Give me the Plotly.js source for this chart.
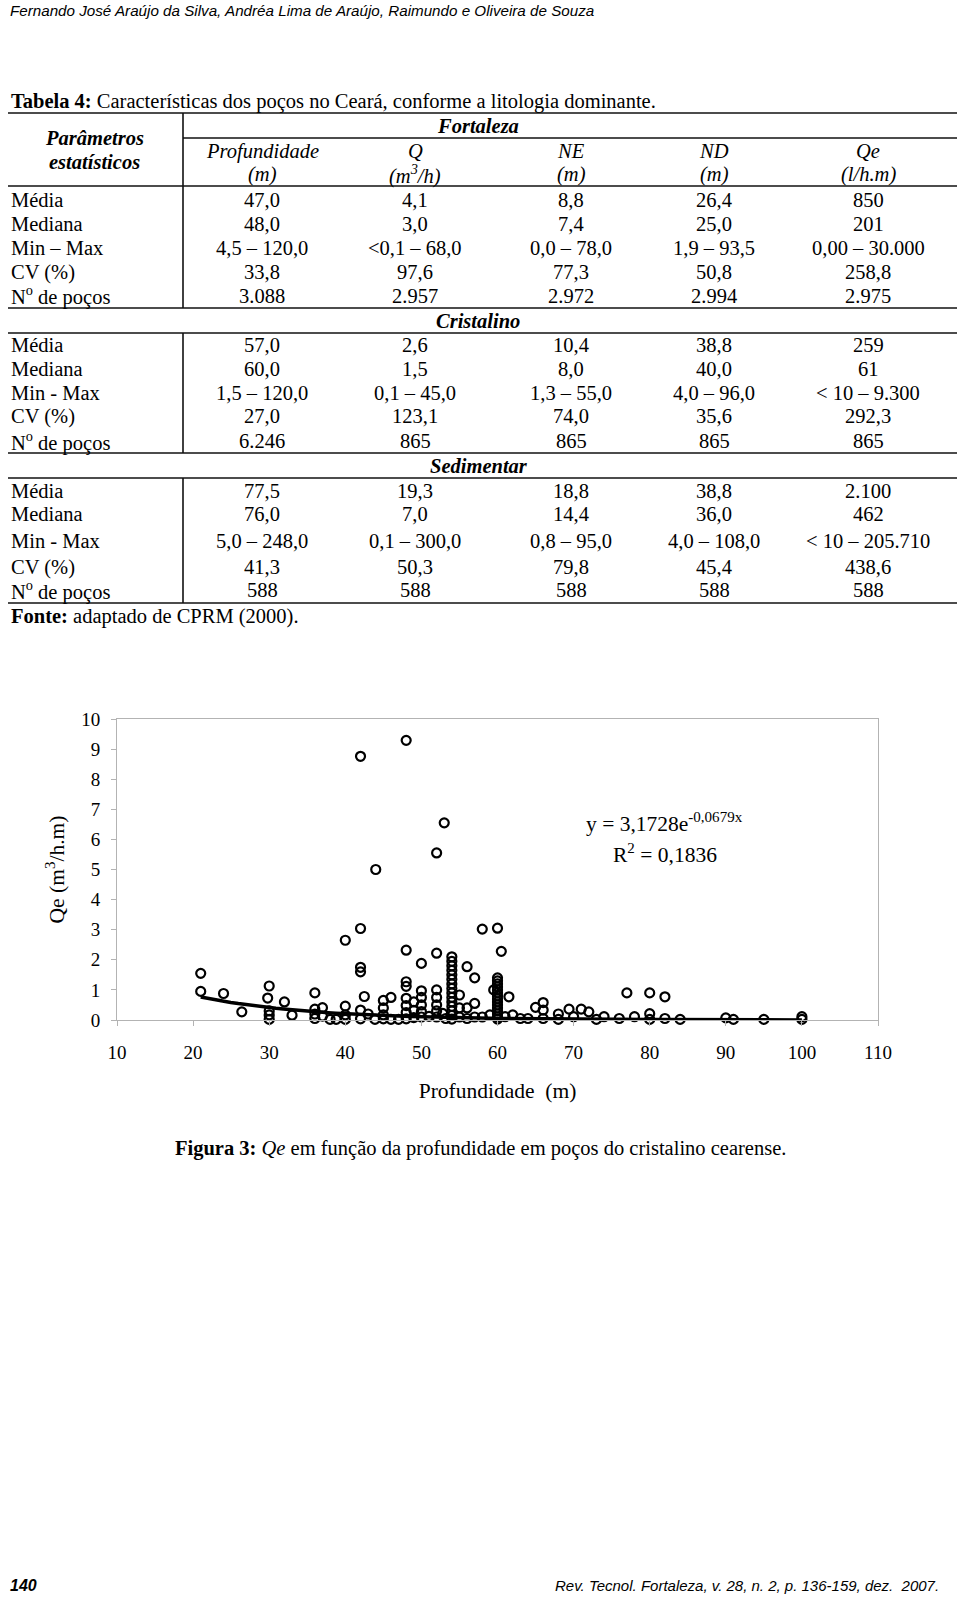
<!DOCTYPE html>
<html>
<head>
<meta charset="utf-8">
<script src="https://cdn.plot.ly/plotly-3.0.1.min.js"></script>
<style>
  html, body { margin: 0; padding: 0; background: #fff; }
  #page { width: 960px; height: 1597px; }
</style>
</head>
<body>
<div id="page"></div>
<script>
// ---------------- DATA ----------------
const runningHeader = 'Fernando José Araújo da Silva, Andréa Lima de Araújo, Raimundo e Oliveira de Souza';
const tableTitleBold = 'Tabela 4:';
const tableTitleRest = ' Características dos poços no Ceará, conforme a litologia dominante.';
const paramHeader = ['Parâmetros', 'estatísticos'];
const colNames = ['Profundidade', 'Q', 'NE', 'ND', 'Qe'];
const colUnits = ['(m)', '(m<sup>3</sup>/h)', '(m)', '(m)', '(l/h.m)'];
const groupNames = ['Fortaleza', 'Cristalino', 'Sedimentar'];
const rowLabelsFortaleza = ['Média', 'Mediana', 'Min – Max', 'CV (%)', 'N<sup>o</sup> de poços'];
const rowLabelsOther = ['Média', 'Mediana', 'Min - Max', 'CV (%)', 'N<sup>o</sup> de poços'];
const fortalezaValues = [
  ['47,0', '4,1', '8,8', '26,4', '850'],
  ['48,0', '3,0', '7,4', '25,0', '201'],
  ['4,5 – 120,0', '&lt;0,1 – 68,0', '0,0 – 78,0', '1,9 – 93,5', '0,00 – 30.000'],
  ['33,8', '97,6', '77,3', '50,8', '258,8'],
  ['3.088', '2.957', '2.972', '2.994', '2.975']
];
const cristalinoValues = [
  ['57,0', '2,6', '10,4', '38,8', '259'],
  ['60,0', '1,5', '8,0', '40,0', '61'],
  ['1,5 – 120,0', '0,1 – 45,0', '1,3 – 55,0', '4,0 – 96,0', '&lt; 10 – 9.300'],
  ['27,0', '123,1', '74,0', '35,6', '292,3'],
  ['6.246', '865', '865', '865', '865']
];
const sedimentarValues = [
  ['77,5', '19,3', '18,8', '38,8', '2.100'],
  ['76,0', '7,0', '14,4', '36,0', '462'],
  ['5,0 – 248,0', '0,1 – 300,0', '0,8 – 95,0', '4,0 – 108,0', '&lt; 10 – 205.710'],
  ['41,3', '50,3', '79,8', '45,4', '438,6'],
  ['588', '588', '588', '588', '588']
];
const sourceBold = 'Fonte:';
const sourceRest = ' adaptado de CPRM (2000).';

// Scatter: depth (m) vs Qe (m3/h.m)
const depthX = [
  21, 21, 24, 26.4, 30, 29.8, 30, 30, 30, 32, 33, 36, 36, 36, 36, 37, 37, 38, 38.8,
  40, 40, 40, 40, 42, 42, 42, 42, 42.5, 42, 42, 43, 43.9, 44, 45, 45, 45, 45, 46, 46, 47,
  48, 48, 48, 48, 48, 48, 48, 48, 49, 49, 49, 50, 50, 50, 50, 50, 50, 51,
  52, 52, 52, 52, 52, 52, 52, 53, 52.8, 53.2,
  54, 54, 54, 54, 54, 54, 54, 54, 54, 54, 54, 54, 54, 54, 54,
  55, 55, 55, 56, 56, 56, 57, 57, 57, 58, 58, 59, 59.5, 60, 60.5,
  60, 60, 60, 60, 60, 60, 60, 60, 60, 60, 60, 60, 60, 60, 60,
  61.5, 61, 62, 63, 64, 65, 66, 66, 66, 68, 68, 69.4, 70, 71, 72, 73, 74, 76, 77, 78,
  80, 80, 80, 82, 82, 84, 90, 91, 95, 100, 100
];
const qeY = [
  1.55, 0.95, 0.88, 0.27, 1.13, 0.73, 0.30, 0.17, 0.02, 0.60, 0.16, 0.90, 0.36, 0.20, 0.05, 0.41, 0.13, 0.02, 0.02,
  2.65, 0.46, 0.17, 0.02, 8.76, 3.04, 1.75, 1.60, 0.78, 0.33, 0.04, 0.20, 0.02, 5.00, 0.65, 0.40, 0.17, 0.04, 0.75, 0.02, 0.02,
  9.29, 2.32, 1.27, 1.12, 0.72, 0.48, 0.25, 0.04, 0.60, 0.32, 0.08, 1.88, 0.97, 0.75, 0.50, 0.28, 0.10, 0.12,
  5.55, 2.22, 1.00, 0.75, 0.50, 0.30, 0.10, 6.55, 0.22, 0.05,
  2.10, 1.95, 1.80, 1.65, 1.50, 1.35, 1.20, 1.05, 0.90, 0.75, 0.60, 0.45, 0.30, 0.15, 0.03,
  0.83, 0.40, 0.10, 1.77, 0.40, 0.05, 1.40, 0.55, 0.10, 3.02, 0.10, 0.17, 1.00, 3.05, 2.28,
  1.40, 1.30, 1.20, 1.10, 1.00, 0.90, 0.80, 0.70, 0.60, 0.50, 0.40, 0.30, 0.20, 0.10, 0.03,
  0.77, 0.11, 0.17, 0.05, 0.05, 0.42, 0.58, 0.33, 0.05, 0.20, 0.02, 0.36, 0.11, 0.36, 0.27, 0.02, 0.11, 0.05, 0.90, 0.11,
  0.90, 0.21, 0.02, 0.77, 0.05, 0.02, 0.07, 0.02, 0.02, 0.11, 0.02
];
// Exponential trend line as stated in the chart: y = 3,1728 e^(-0,0679 x)
const trendA = 3.1728;
const trendB = -0.0679;
const trendLabel = 'y = 3,1728e<sup>-0,0679x</sup>';
const r2Label = 'R<sup>2</sup> = 0,1836';
const xTitle = 'Profundidade  (m)';
const yTitle = 'Qe (m<sup>3</sup>/h.m)';
const captionBold = 'Figura 3:';
const captionItalic = 'Qe';
const captionRest = ' em função da profundidade em poços do cristalino cearense.';
const footerPage = '140';
const footerRef = 'Rev. Tecnol. Fortaleza, v. 28, n. 2, p. 136-159, dez.  2007.';

// ---------------- LAYOUT HELPERS ----------------
const W = 960, H = 1597;
const PL = 117, PR = 878, PT = 719, PB = 1020;   // plot area in px
const fx = px => (px - PL) / (PR - PL);
const fy = py => (PB - py) / (PB - PT);
const SERIF = '"Liberation Serif", "Times New Roman", serif';
const NARROW = '"Liberation Sans Narrow", "Arial Narrow", "Liberation Sans", sans-serif';
const TFS = 20.5;

const annotations = [];
const shapes = [];
function txt(text, px, py, opts) {
  opts = opts || {};
  annotations.push({
    text: text, xref: 'paper', yref: 'paper', x: fx(px), y: fy(py),
    xanchor: opts.xanchor || 'center', yanchor: 'middle', showarrow: false,
    font: { family: opts.family || SERIF, size: opts.size || TFS, color: '#000' }
  });
}
function hline(py, x0, x1) {
  shapes.push({ type: 'line', xref: 'paper', yref: 'paper', x0: fx(x0), x1: fx(x1), y0: fy(py), y1: fy(py),
    line: { color: '#111', width: 1.6 } });
}
function vline(px, y0, y1) {
  shapes.push({ type: 'line', xref: 'paper', yref: 'paper', x0: fx(px), x1: fx(px), y0: fy(y0), y1: fy(y1),
    line: { color: '#111', width: 1.6 } });
}

// running header
txt('<i>' + runningHeader + '</i>', 8, 10, { xanchor: 'left', family: NARROW, size: 15.2 });
// table title
txt('<b>' + tableTitleBold + '</b>' + tableTitleRest, 9, 102, { xanchor: 'left' });

// table geometry
const L = 8, R = 957, VX = 183;
const colX = [262, 415, 571, 714, 868];
hline(113, L, R);
hline(138, VX, R);
hline(186, L, R);
hline(308, L, R);
hline(333, L, R);
hline(453, L, R);
hline(478, L, R);
hline(603, L, R);
vline(VX, 113, 308);
vline(VX, 333, 453);
vline(VX, 478, 603);

txt('<b><i>' + paramHeader[0] + '</i></b>', 94, 138);
txt('<b><i>' + paramHeader[1] + '</i></b>', 94, 162);
txt('<b><i>' + groupNames[0] + '</i></b>', 478, 126);
colNames.forEach((c, i) => {
  txt('<i>' + c + '</i>', colX[i], 151);
  txt('<i>' + colUnits[i] + '</i>', colX[i], 174);
});

function block(labels, values, rowY) {
  labels.forEach((lab, r) => {
    txt(lab, 9, rowY[r], { xanchor: 'left' });
    values[r].forEach((v, c) => txt(v, colX[c], rowY[r]));
  });
}
block(rowLabelsFortaleza, fortalezaValues, [200, 224, 248, 272, 296]);
txt('<b><i>' + groupNames[1] + '</i></b>', 478, 321);
block(rowLabelsOther, cristalinoValues, [345, 369, 393, 416, 441]);
txt('<b><i>' + groupNames[2] + '</i></b>', 479, 466);
block(rowLabelsOther, sedimentarValues, [491, 514, 541, 567, 590]);
txt('<b>' + sourceBold + '</b>' + sourceRest, 9, 616, { xanchor: 'left' });

// equation labels (data coordinates)
annotations.push({ text: trendLabel, xref: 'x', yref: 'y', x: 82, y: 6.55, showarrow: false,
  xanchor: 'center', yanchor: 'middle', font: { family: SERIF, size: 21.5, color: '#000' } });
annotations.push({ text: r2Label, xref: 'x', yref: 'y', x: 82, y: 5.52, showarrow: false,
  xanchor: 'center', yanchor: 'middle', font: { family: SERIF, size: 21.5, color: '#000' } });

// caption and footer
txt('<b>' + captionBold + '</b> <i>' + captionItalic + '</i>' + captionRest, 480, 1148);
txt('<b><i>' + footerPage + '</i></b>', 8, 1585, { xanchor: 'left', family: NARROW, size: 16 });
txt('<i>' + footerRef + '</i>', 941, 1585, { xanchor: 'right', family: NARROW, size: 15 });

// trend line samples from data extent
const xMin = Math.min(...depthX), xMax = Math.max(...depthX);
const trendX = [], trendY = [];
for (let i = 0; i <= 80; i++) {
  const x = xMin + (xMax - xMin) * i / 80;
  trendX.push(x);
  trendY.push(trendA * Math.exp(trendB * x));
}

const traces = [
  { type: 'scatter', mode: 'lines', x: trendX, y: trendY, line: { color: '#000', width: 3.5 },
    hoverinfo: 'skip', showlegend: false, cliponaxis: false },
  { type: 'scatter', mode: 'markers', x: depthX, y: qeY, cliponaxis: false, showlegend: false,
    marker: { symbol: 'circle-open', size: 9, color: '#000', line: { color: '#000', width: 2.2 } } }
];

const axisFont = { family: SERIF, size: 19, color: '#000' };
const titleFont = { family: SERIF, size: 21.5, color: '#000' };
const layout = {
  width: W, height: H,
  margin: { l: PL, r: W - PR, t: PT, b: H - PB, pad: 0 },
  paper_bgcolor: '#fff', plot_bgcolor: '#fff',
  showlegend: false,
  xaxis: {
    range: [10, 110], tick0: 10, dtick: 10, showgrid: false, zeroline: false,
    showline: true, linecolor: '#b3b3b3', linewidth: 1, mirror: true,
    ticks: 'outside', ticklen: 5, tickcolor: '#b3b3b3', tickfont: axisFont,
    ticklabelstandoff: 10,
    title: { text: xTitle, font: titleFont, standoff: 21 }
  },
  yaxis: {
    range: [0, 10], tick0: 0, dtick: 1, showgrid: false, zeroline: false,
    showline: true, linecolor: '#b3b3b3', linewidth: 1, mirror: true,
    ticks: 'outside', ticklen: 5, tickcolor: '#b3b3b3', tickfont: axisFont,
    ticklabelstandoff: 7,
    title: { text: yTitle, font: titleFont, standoff: 10 }
  },
  annotations: annotations,
  shapes: shapes
};

Plotly.newPlot('page', traces, layout, { staticPlot: true, displayModeBar: false });
</script>
</body>
</html>
